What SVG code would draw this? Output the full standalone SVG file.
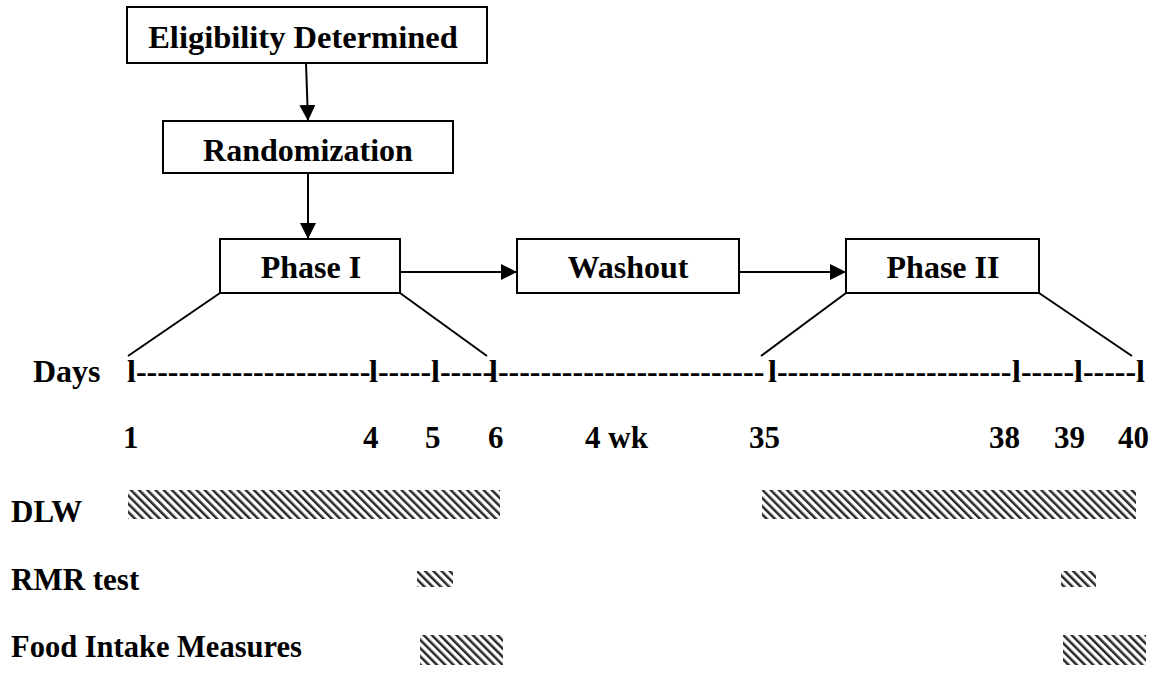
<svg xmlns="http://www.w3.org/2000/svg" width="1155" height="673" viewBox="0 0 1155 673">
<style>
.box{fill:#fff;stroke:#000;stroke-width:2}
.t{font-family:'Liberation Serif','Times New Roman',serif;font-weight:700;font-size:31px;fill:#000}
.b{font-size:32px}
.c{text-anchor:middle}
.ln{stroke:#000;stroke-width:2;fill:none}
.hatch{fill:url(#hp)}
</style>
<defs>
<marker id="ah" markerUnits="userSpaceOnUse" markerWidth="17" markerHeight="17" refX="16" refY="8" orient="auto">
<path d="M0,0 L16,8 L0,16 z" fill="#000"/>
</marker>
<pattern id="hp" patternUnits="userSpaceOnUse" width="5.8" height="10" patternTransform="rotate(-45)">
<rect x="0" y="0" width="5.8" height="10" fill="#fff"/>
<rect x="0" y="0" width="2.5" height="10" fill="#2a2a2a"/>
</pattern>
</defs>

<g id="connectors">
<line class="ln" x1="306" y1="63" x2="308" y2="121" marker-end="url(#ah)"/>
<line class="ln" x1="308" y1="173" x2="308" y2="239" marker-end="url(#ah)"/>
<line class="ln" x1="400" y1="272" x2="517" y2="272" marker-end="url(#ah)"/>
<line class="ln" x1="739" y1="272" x2="846" y2="272" marker-end="url(#ah)"/>
<line class="ln" x1="220" y1="293" x2="128" y2="356"/>
<line class="ln" x1="400" y1="293" x2="487" y2="356"/>
<line class="ln" x1="846" y1="293" x2="761" y2="356"/>
<line class="ln" x1="1039" y1="293" x2="1132" y2="356"/>
</g>

<g id="eligibility">
<rect class="box" x="127" y="7" width="360" height="56"/>
<text class="t b c" x="303" y="48" style="font-size:32.5px">Eligibility Determined</text>
</g>
<g id="randomization">
<rect class="box" x="163" y="121" width="290" height="52"/>
<text class="t b c" x="308" y="161">Randomization</text>
</g>
<g id="phase1">
<rect class="box" x="220" y="239" width="180" height="54"/>
<text class="t b c" x="311" y="278">Phase I</text>
</g>
<g id="washout">
<rect class="box" x="517" y="239" width="222" height="54"/>
<text class="t b c" x="628" y="278">Washout</text>
</g>
<g id="phase2">
<rect class="box" x="846" y="239" width="193" height="54"/>
<text class="t b c" x="943" y="278">Phase II</text>
</g>

<g id="timeline">
<text class="t b" x="33" y="382">Days</text>
<text class="t b" y="382"><tspan x="127">l----------------------</tspan><tspan x="369">l-----</tspan><tspan x="431">l-----</tspan><tspan x="489">l-------------------------</tspan><tspan x="768">l----------------------</tspan><tspan x="1012">l-----</tspan><tspan x="1074">l-----</tspan><tspan x="1136">l</tspan></text>
<text class="t" y="448"><tspan x="123">1</tspan><tspan x="363">4</tspan><tspan x="425">5</tspan><tspan x="488">6</tspan><tspan x="585">4 wk</tspan><tspan x="749">35</tspan><tspan x="989">38</tspan><tspan x="1054">39</tspan><tspan x="1118">40</tspan></text>
</g>

<g id="measures">
<text class="t" x="11" y="522">DLW</text>
<text class="t" x="11" y="590">RMR test</text>
<text class="t" x="11" y="657" style="font-size:30.5px">Food Intake Measures</text>
<rect class="hatch" x="128" y="490" width="372" height="29"/>
<rect class="hatch" x="762" y="490" width="374" height="29"/>
<rect class="hatch" x="417" y="571" width="36" height="16"/>
<rect class="hatch" x="1061" y="571" width="35" height="16"/>
<rect class="hatch" x="420" y="635" width="83" height="30"/>
<rect class="hatch" x="1063" y="635" width="83" height="30"/>
</g>
</svg>
